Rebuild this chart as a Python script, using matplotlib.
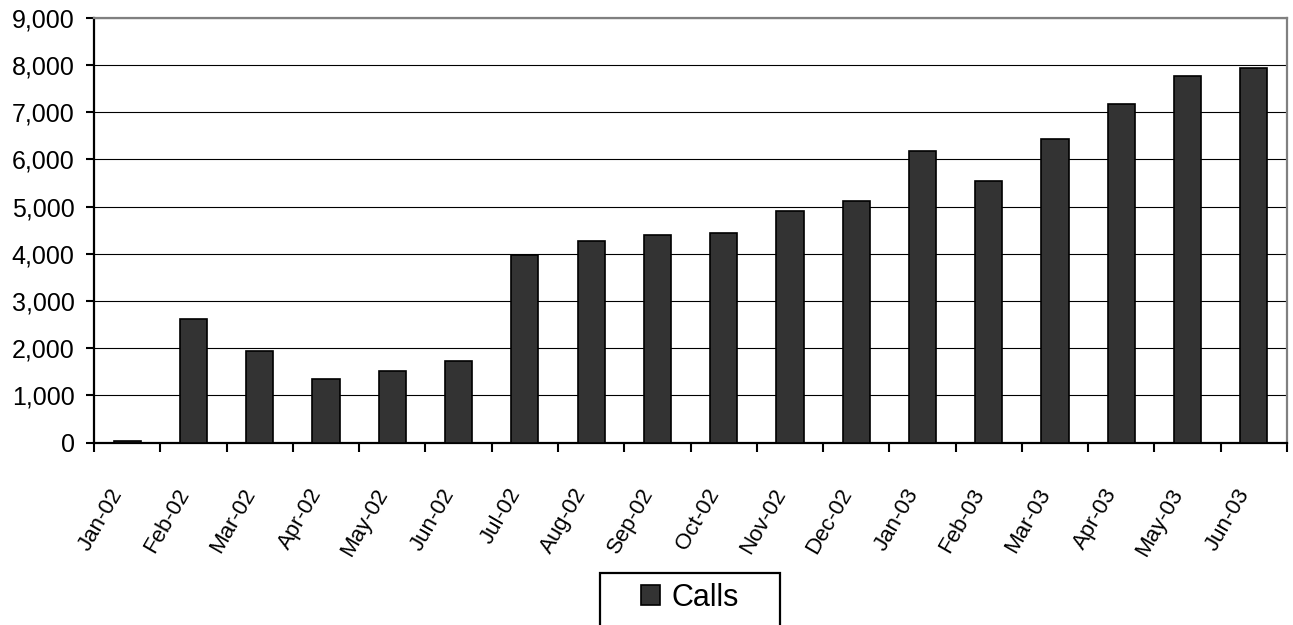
import matplotlib
matplotlib.use("Agg")
import matplotlib.pyplot as plt
from matplotlib.patches import Rectangle
from matplotlib.ticker import FuncFormatter, MultipleLocator
from matplotlib.transforms import ScaledTranslation
import numpy as np

plt.rcParams['font.family'] = ['Liberation Sans', 'DejaVu Sans']

months = ['Jan-02', 'Feb-02', 'Mar-02', 'Apr-02', 'May-02', 'Jun-02',
          'Jul-02', 'Aug-02', 'Sep-02', 'Oct-02', 'Nov-02', 'Dec-02',
          'Jan-03', 'Feb-03', 'Mar-03', 'Apr-03', 'May-03', 'Jun-03']
calls = [30, 2615, 1940, 1345, 1512, 1725,
         3975, 4275, 4400, 4445, 4910, 5120,
         6168, 5540, 6425, 7180, 7775, 7945]
y_max = 9000
y_step = 1000

fig = plt.figure(figsize=(12.93, 6.25), dpi=100)
ax = fig.add_axes([0.0727, 0.2917, 0.9227, 0.68])

x = np.arange(len(months))
ax.bar(x, calls, width=0.41, color='#333333', edgecolor='black',
       linewidth=1.2, zorder=3, label='Calls')

ax.set_xlim(-0.5, len(months) - 0.5)
ax.set_ylim(0, y_max)
ax.yaxis.set_major_locator(MultipleLocator(y_step))
ax.yaxis.set_major_formatter(FuncFormatter(lambda v, p: f'{int(v):,}'))
ax.grid(axis='y', color='black', linewidth=0.8, zorder=0)
ax.set_axisbelow(True)

# category boundary ticks on x, labels centred on each bar
ax.set_xticks(np.arange(len(months) + 1) - 0.5)
ax.set_xticklabels([])
ax.set_xticks(x, minor=True)
ax.set_xticklabels(months, minor=True, rotation=60, ha='right',
                   va='center', rotation_mode='anchor', fontsize=16)
ax.tick_params(axis='x', which='minor', length=0, pad=34)
ax.tick_params(axis='x', which='major', length=6.5, width=1.5,
               direction='out', color='black')
ax.tick_params(axis='y', length=6, width=1.5, direction='out',
               labelsize=18, pad=8, color='black')
shift = ScaledTranslation(-9 / 100, 0, fig.dpi_scale_trans)
for lbl in ax.get_xticklabels(minor=True):
    lbl.set_transform(lbl.get_transform() + shift)

for side in ('left', 'bottom'):
    ax.spines[side].set_color('black')
    ax.spines[side].set_linewidth(1.6)
for side in ('top', 'right'):
    ax.spines[side].set_color('#808080')
    ax.spines[side].set_linewidth(1.6)

# legend with a plain rectangular frame running off the bottom edge
leg = fig.legend(loc='center', bbox_to_anchor=(690 / 1293, 1 - 598 / 625),
                 frameon=False, fontsize=22, handlelength=0.62,
                 handleheight=0.62, handletextpad=0.4)
fig.patches.append(Rectangle((600 / 1293, -0.01), 180 / 1293,
                             1 - 572.7 / 625 + 0.01,
                             transform=fig.transFigure, fill=False,
                             edgecolor='black', linewidth=1.6))

fig.savefig('out.png', dpi=100)
